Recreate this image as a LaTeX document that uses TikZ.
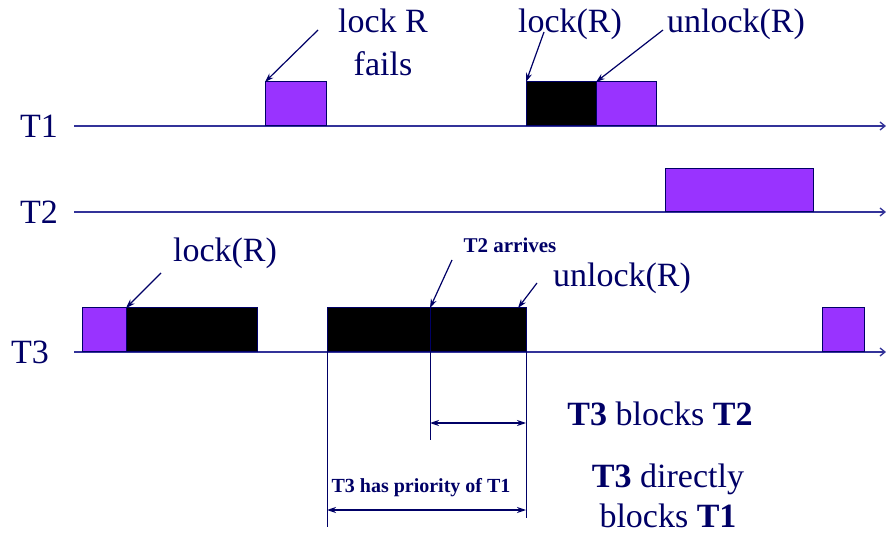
\documentclass[tikz,border=0pt]{standalone}
\usepackage{fontspec}
\setmainfont{Liberation Serif}
\newfontfamily\tnr{Liberation Serif}
\usetikzlibrary{arrows.meta}
\definecolor{navy}{HTML}{000066}
\definecolor{axiscol}{HTML}{333399}
\definecolor{purp}{HTML}{9933FF}
\tikzset{
  big/.style={font=\tnr\fontsize{34}{43}\selectfont, text=navy, inner sep=0pt},
  small/.style={font=\tnr\fontsize{21}{25}\selectfont\bfseries, text=navy, inner sep=0pt},
  axisline/.style={draw=axiscol, line width=1.3pt, -{Straight Barb[length=5pt,width=8pt]}},
  pbox/.style={draw=navy, fill=purp, line width=1pt, inner sep=0pt, outer sep=0pt, anchor=south west},
  kbox/.style={draw=navy, fill=black, line width=1pt, inner sep=0pt, outer sep=0pt, anchor=south west},
  ptr/.style={draw=navy, line width=1.2pt, -{Stealth[length=9pt,width=6pt]}},
  dim/.style={draw=navy, line width=1.2pt, {Stealth[length=9pt,width=6pt]}-{Stealth[length=9pt,width=6pt]}},
  guide/.style={draw=navy, line width=1pt}
}
\begin{document}
\begin{tikzpicture}[x=1pt,y=-1pt]
\useasboundingbox (0,0) rectangle (886,534);
% axes
\coordinate (a1s) at (74,126); \coordinate (a1e) at (886,126);
\coordinate (a2s) at (74,212); \coordinate (a2e) at (886,212);
\coordinate (a3s) at (74,352); \coordinate (a3e) at (886,352);
\draw[axisline] (a1s) -- (a1e);
\draw[axisline] (a2s) -- (a2e);
\draw[axisline] (a3s) -- (a3e);
\node[big, anchor=base west] (lt1) at (20,138) {T1};
\node[big, anchor=base west] (lt2) at (20,224) {T2};
\node[big, anchor=base west] (lt3) at (11,363) {T3};
% T1 boxes
\node[pbox, minimum width=61pt, minimum height=44pt] (f1) at (265,126) {};
\node[kbox, minimum width=70pt, minimum height=44pt] (k1) at (526,126) {};
\node[pbox, minimum width=60pt, minimum height=44pt] (p1) at (596,126) {};
% T2 box
\node[pbox, minimum width=148pt, minimum height=43pt] (p2) at (665,212) {};
% T3 boxes
\node[pbox, minimum width=44pt, minimum height=44pt] (p3a) at (82,352) {};
\node[kbox, minimum width=131pt, minimum height=44pt] (k3a) at (126,352) {};
\node[kbox, minimum width=199pt, minimum height=44pt] (k3b) at (327,352) {};
\node[pbox, minimum width=42pt, minimum height=44pt] (p3b) at (822,352) {};
% labels T1
\node[big, anchor=base, align=center] (lrf) at (383,76) {lock R\\fails};
\node[big, anchor=base] (lk1) at (570,33) {lock(R)};
\node[big, anchor=base] (ul1) at (736,33) {unlock(R)};
\coordinate (lrft) at (318,30);
\coordinate (lk1t) at (544,32);
\coordinate (ul1t) at (663,30);
\draw[ptr] (lrft) -- (f1.north west);
\draw[ptr] (lk1t) -- (k1.north west);
\draw[ptr] (ul1t) -- (p1.north west);
% labels T3
\node[big, anchor=base] (lk3) at (225,262) {lock(R)};
\node[small, anchor=base] (t2a) at (510,253) {T2 arrives};
\node[big, anchor=base] (ul3) at (622,287) {unlock(R)};
\coordinate (lk3t) at (161,273);
\coordinate (t2at) at (452,260);
\coordinate (ul3t) at (537,283);
\coordinate (t2in) at (430,308);
\coordinate (ul3in) at (518,308);
\draw[ptr] (lk3t) -- (p3a.north east);
\draw[ptr] (t2at) -- (t2in);
\draw[ptr] (ul3t) -- (ul3in);
% guides
\coordinate (g1e) at (327,527);
\coordinate (g2e) at (430,440);
\coordinate (g3e) at (526,518);
\draw[guide] (k3b.south west) -- (g1e);
\draw[guide] (t2in) -- (g2e);
\draw[guide] (k3b.south east) -- (g3e);
\coordinate (d1a) at (430,423); \coordinate (d1b) at (526,423);
\coordinate (d2a) at (327,510); \coordinate (d2b) at (526,510);
\draw[dim] (d1a) -- (d1b);
\draw[dim] (d2a) -- (d2b);
\node[small, anchor=base, font=\tnr\fontsize{20}{24}\selectfont\bfseries] (pri) at (421,492) {T3 has priority of T1};
% right texts
\node[big, anchor=base] (bl2) at (660,425) {\textbf{T3} blocks \textbf{T2}};
\node[big, anchor=base] (dir) at (668,487) {\textbf{T3} directly};
\node[big, anchor=base] (bl1) at (668,527) {blocks \textbf{T1}};
\end{tikzpicture}
\end{document}
